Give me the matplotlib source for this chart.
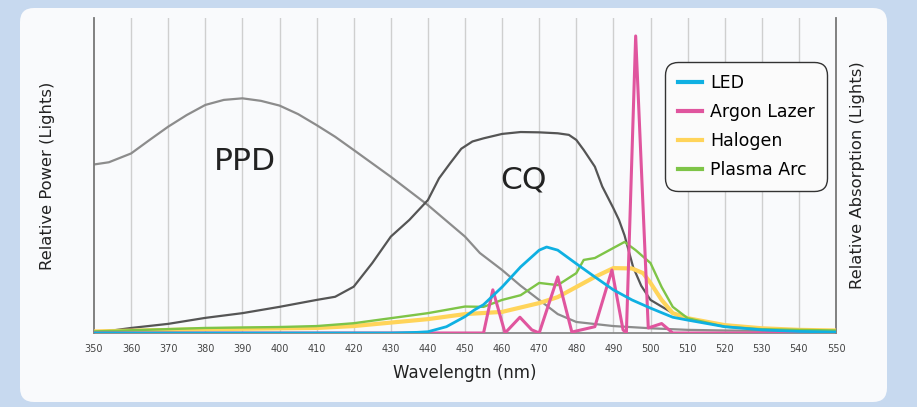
import numpy as np
import matplotlib.pyplot as plt
from matplotlib.patches import FancyBboxPatch
from matplotlib.transforms import IdentityTransform

# wavelength (nm) and relative values
ppd_x = [350, 354, 360, 365, 370, 375, 380, 385, 390, 395, 400, 405, 410, 415, 420, 430, 440, 450, 454,
         460, 465, 470, 475, 480, 490, 500, 510, 520, 550]
ppd_y = [0.535, 0.542, 0.570, 0.613, 0.655, 0.692, 0.724, 0.740, 0.745, 0.737, 0.722, 0.695, 0.660, 0.623, 0.581,
         0.496, 0.406, 0.306, 0.254, 0.200, 0.150, 0.105, 0.060, 0.035, 0.022, 0.015, 0.010, 0.008, 0.005]

cq_x = [350, 360, 370, 380, 390, 400, 405, 410, 415, 420, 425, 430, 435, 440, 443, 446, 449, 452, 455, 460,
        465, 470, 475, 478, 480, 482, 485, 487, 490, 491.5, 493, 495.3, 497.5, 500, 506, 511, 520, 530, 540, 550]
cq_y = [0.0, 0.016, 0.029, 0.048, 0.063, 0.083, 0.094, 0.105, 0.115, 0.147, 0.222, 0.306, 0.359, 0.422, 0.491,
        0.539, 0.585, 0.608, 0.618, 0.632, 0.638, 0.637, 0.634, 0.629, 0.613, 0.581, 0.528, 0.465, 0.396, 0.359,
        0.310, 0.210, 0.150, 0.105, 0.063, 0.041, 0.025, 0.015, 0.010, 0.008]

led_x = [350, 430, 437, 440, 445, 450, 452.5, 455, 460, 465, 470, 472, 475, 480, 485, 490, 495, 500, 506, 510,
         520, 530, 540, 550]
led_y = [0.0, 0.0, 0.002, 0.004, 0.020, 0.052, 0.073, 0.090, 0.146, 0.210, 0.263, 0.273, 0.263, 0.220, 0.178,
         0.137, 0.105, 0.079, 0.050, 0.041, 0.020, 0.010, 0.005, 0.003]

argon_x = [350, 455, 457.5, 460.8, 464.8, 468, 470, 475, 478.8, 485, 489.6, 492.6, 493.5, 496, 499.4, 503, 506, 550]
argon_y = [0.0, 0.0, 0.137, 0.0, 0.050, 0.010, 0.0, 0.178, 0.003, 0.020, 0.200, 0.010, 0.0, 0.943, 0.016, 0.030,
           0.0, 0.0]

halogen_x = [350, 380, 410, 420, 430, 440, 450, 460, 470, 475, 480, 485, 490, 495, 498, 500, 503, 506, 510,
             520, 530, 540, 550]
halogen_y = [0.005, 0.012, 0.016, 0.022, 0.033, 0.044, 0.060, 0.067, 0.095, 0.114, 0.146, 0.178, 0.206, 0.205,
             0.190, 0.159, 0.105, 0.063, 0.047, 0.025, 0.015, 0.010, 0.008]

plasma_x = [350, 380, 400, 410, 420, 430, 440, 450, 455, 460, 465, 470, 475, 480, 482, 485, 490, 493, 496,
            500, 503, 506, 510, 520, 530, 550]
plasma_y = [0.005, 0.016, 0.019, 0.022, 0.031, 0.047, 0.063, 0.084, 0.083, 0.105, 0.120, 0.159, 0.152, 0.190,
            0.232, 0.238, 0.270, 0.289, 0.263, 0.222, 0.146, 0.083, 0.047, 0.020, 0.012, 0.008]

ticks = list(range(350, 551, 10))

fig = plt.figure(figsize=(9.17, 4.07), dpi=100)
fig.patch.set_facecolor('#c7d9ef')
# white rounded card behind the chart (pixel coordinates)
panel = FancyBboxPatch((20, 5), 867, 394,
                       boxstyle='round,pad=0,rounding_size=14',
                       transform=IdentityTransform(), facecolor='#f9fafc',
                       edgecolor='none', zorder=-5)
fig.patches.append(panel)

ax = fig.add_axes([94 / 917, 74 / 407, 742 / 917, 315 / 407])
ax.set_facecolor('none')
ax.set_xlim(350, 550)
ax.set_ylim(0, 1)

for t in ticks[1:-1]:
    ax.axvline(t, color='#cfcfcf', lw=1.0, zorder=1)

ax.plot(ppd_x, ppd_y, color='#8c8c8c', lw=1.6, zorder=2)
ax.plot(cq_x, cq_y, color='#555555', lw=1.6, zorder=2)
ax.plot(halogen_x, halogen_y, color='#ffd45a', lw=3.0, zorder=3, label='Halogen')
ax.plot(plasma_x, plasma_y, color='#7ec447', lw=1.7, zorder=4, label='Plasma Arc')
ax.plot(argon_x, argon_y, color='#e0559e', lw=2.2, zorder=4, label='Argon Lazer')
ax.plot(led_x, led_y, color='#0fb0e2', lw=2.0, zorder=5, label='LED')

ax.text(390.6, 0.544, 'PPD', fontsize=22.5, color='#222222', ha='center', va='center')
ax.text(465.9, 0.486, 'CQ', fontsize=22.5, color='#222222', ha='center', va='center')

for s in ['left', 'right']:
    ax.spines[s].set_color('#777777')
    ax.spines[s].set_linewidth(1.3)
ax.spines['bottom'].set_color('#888888')
ax.spines['bottom'].set_linewidth(1.3)
ax.spines['top'].set_visible(False)

ax.set_xticks(ticks)
ax.set_xticklabels([str(t) for t in ticks], fontsize=7, color='#444444')
ax.tick_params(axis='x', length=0, pad=8)
ax.set_yticks([])
ax.set_xlabel('Wavelengtn (nm)', fontsize=12, color='#222222', labelpad=7)
ax.set_ylabel('Relative Power (Lights)', fontsize=11.8, color='#222222', labelpad=28)
ax2 = ax.twinx()
ax2.set_yticks([])
ax2.set_ylabel('Relative Absorption (Lights)', fontsize=11.8, color='#222222', labelpad=10)
for s in ax2.spines.values():
    s.set_visible(False)

handles, labels = ax.get_legend_handles_labels()
order = [3, 2, 0, 1]
leg = ax.legend([handles[i] for i in order], [labels[i] for i in order],
                loc='upper right', bbox_to_anchor=(827 / 917, 1 - 62 / 407),
                bbox_transform=fig.transFigure, fontsize=12.5,
                frameon=True, fancybox=True, handlelength=1.4,
                labelspacing=0.62, borderpad=0.72, handletextpad=0.45, borderaxespad=0)
frame = leg.get_frame()
frame.set_boxstyle('round,pad=0,rounding_size=0.75')
frame.set_edgecolor('#333333')
frame.set_linewidth(1.0)
frame.set_facecolor('#fbfbfb')
frame.set_alpha(1)
for lh in leg.get_lines():
    lh.set_linewidth(3)

fig.savefig('out.png', dpi=100, facecolor=fig.get_facecolor())
